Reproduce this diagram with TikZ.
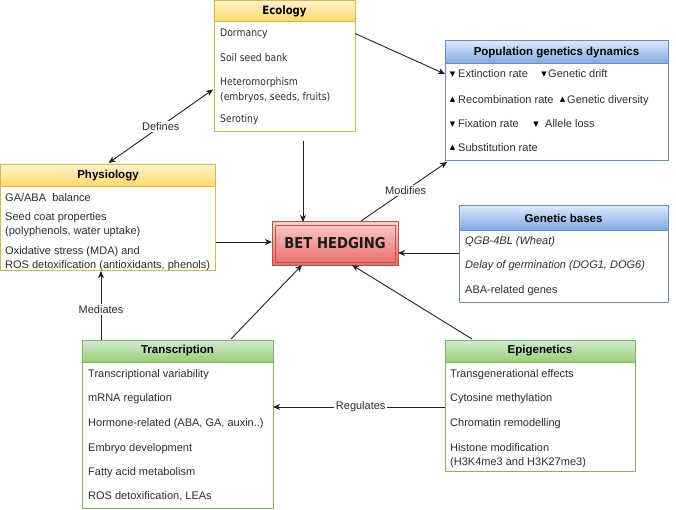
\documentclass[tikz,border=0pt]{standalone}
\usepackage{fontspec}
\setmainfont{Liberation Sans}
\newfontfamily\tahoma[FakeStretch=0.88]{DejaVu Sans}
\newfontfamily\symfont{DejaVu Sans}
\usetikzlibrary{arrows.meta,calc}
\definecolor{ytop}{HTML}{FFF2CC}
\definecolor{ybot}{HTML}{FFD966}
\definecolor{ystroke}{HTML}{D6B656}
\definecolor{btop}{HTML}{DAE8FC}
\definecolor{bbot}{HTML}{7EA6E0}
\definecolor{bstroke}{HTML}{6C8EBF}
\definecolor{gtop}{HTML}{D5E8D4}
\definecolor{gbot}{HTML}{97D077}
\definecolor{gstroke}{HTML}{82B366}
\definecolor{rtop}{HTML}{F8CECC}
\definecolor{rbot}{HTML}{EA6B66}
\definecolor{rstroke}{HTML}{B85450}
\definecolor{txt}{HTML}{2E2E2E}
\definecolor{edge}{HTML}{222222}
\begin{document}
\begin{tikzpicture}[x=1pt,y=-1pt,
  swim/.style={draw, line width=1pt, fill=white, inner sep=0pt, outer sep=0pt, anchor=north west},
  hdr/.style={draw, line width=1pt, inner sep=0pt, outer sep=0pt, anchor=north west, font=\fontsize{11.5}{13}\selectfont\bfseries, text=black},
  yhdr/.style={hdr, draw=ystroke, top color=ytop, bottom color=ybot},
  bhdr/.style={hdr, draw=bstroke, top color=btop, bottom color=bbot},
  ghdr/.style={hdr, draw=gstroke, top color=gtop, bottom color=gbot},
  row/.style={anchor=base west, inner sep=0pt, font=\fontsize{11}{13}\selectfont, text=txt},
  erow/.style={anchor=base west, inner sep=0pt, font=\tahoma\fontsize{10.5}{13}\selectfont, text=txt},
  irow/.style={row, font=\fontsize{11}{13}\selectfont\itshape},
  sym/.style={inner sep=0pt, font=\symfont\fontsize{7}{8}\selectfont, text=black},
  conn/.style={draw=edge, line width=0.9pt, -{Stealth[length=7pt,width=6pt,inset=2pt]}},
  lbl/.style={fill=white, inner sep=1.5pt, font=\fontsize{11}{13}\selectfont, text=txt}
]
\useasboundingbox (0,0) rectangle (676,510);

% ---------- Ecology ----------
\node[swim, draw=ystroke, minimum width=141pt, minimum height=131pt] (eco) at (214,0.5) {};
\node[yhdr, minimum width=141pt, minimum height=21pt, font=\tahoma\fontsize{11.5}{13}\selectfont\bfseries] (ecoh) at (eco.north west) {Ecology};
\node[erow] (eco1) at ($(eco.north west)+(6,36.5)$) {Dormancy};
\node[erow] (eco2) at ($(eco.north west)+(6,61.5)$) {Soil seed bank};
\node[erow] (eco3) at ($(eco.north west)+(6,85.5)$) {Heteromorphism};
\node[erow] (eco4) at ($(eco.north west)+(6,100.5)$) {(embryos, seeds, fruits)};
\node[erow] (eco5) at ($(eco.north west)+(6,122.5)$) {Serotiny};

% ---------- Population genetics dynamics ----------
\node[swim, draw=bstroke, minimum width=223pt, minimum height=120pt] (pop) at (445,41) {};
\node[bhdr, minimum width=223pt, minimum height=23pt] (poph) at (pop.north west) {Population genetics dynamics};
\node[sym] (pa1) at (452.5,74.5) {▼};
\node[row] (pt1) at (458,78) {Extinction rate};
\node[sym] (pa2) at (544,74.5) {▼};
\node[row] (pt2) at (548,78) {Genetic drift};
\node[sym] (pa3) at (452.5,99.5) {▲};
\node[row] (pt3) at (458,103.5) {Recombination rate};
\node[sym] (pa4) at (562.5,99.5) {▲};
\node[row] (pt4) at (567,103.5) {Genetic diversity};
\node[sym] (pa5) at (452.5,124.5) {▼};
\node[row] (pt5) at (458,128) {Fixation rate};
\node[sym] (pa6) at (536,124.5) {▼};
\node[row] (pt6) at (545,128) {Allele loss};
\node[sym] (pa7) at (452.5,148) {▲};
\node[row] (pt7) at (458,152) {Substitution rate};

% ---------- Physiology ----------
\node[swim, draw=ystroke, minimum width=215pt, minimum height=105pt] (phy) at (0.5,165) {};
\node[yhdr, minimum width=215pt, minimum height=22pt] (phyh) at (phy.north west) {Physiology};
\node[row] (phy1) at ($(phy.north west)+(4.5,37)$) {GA/ABA\ \ balance};
\node[row] (phy2) at ($(phy.north west)+(4.5,56)$) {Seed coat properties};
\node[row] (phy3) at ($(phy.north west)+(4.5,70)$) {(polyphenols, water uptake)};
\node[row] (phy4) at ($(phy.north west)+(4.5,89.5)$) {Oxidative stress (MDA) and};
\node[row] (phy5) at ($(phy.north west)+(4.5,103)$) {ROS detoxification (antioxidants, phenols)};

% ---------- BET HEDGING ----------
\node[draw=rstroke, line width=1pt, top color=rtop, bottom color=rbot, inner sep=0pt, outer sep=0pt, anchor=north west, minimum width=126pt, minimum height=43pt] (bet) at (272,222) {};
\draw[rstroke, line width=0.8pt] ($(bet.north west)+(3,3)$) rectangle ($(bet.south east)+(-3,-3)$);
\node[inner sep=0pt, font=\tahoma\fontsize{15}{17}\selectfont\bfseries, text=black!90] (betl) at (bet.center) {BET HEDGING};

% ---------- Genetic bases ----------
\node[swim, draw=bstroke, minimum width=209pt, minimum height=96pt] (gen) at (459,206) {};
\node[bhdr, minimum width=209pt, minimum height=25pt] (genh) at (gen.north west) {Genetic bases};
\node[irow] (gen1) at ($(gen.north west)+(6,39)$) {QGB-4BL (Wheat)};
\node[irow] (gen2) at ($(gen.north west)+(6,63)$) {Delay of germination (DOG1, DOG6)};
\node[row] (gen3) at ($(gen.north west)+(6,87)$) {ABA-related genes};

% ---------- Transcription ----------
\node[swim, draw=gstroke, minimum width=191pt, minimum height=168pt] (tra) at (82,340) {};
\node[ghdr, minimum width=191pt, minimum height=22pt] (trah) at (tra.north west) {Transcription};
\node[row] (tra1) at ($(tra.north west)+(6,37)$) {Transcriptional variability};
\node[row] (tra2) at ($(tra.north west)+(6,61)$) {mRNA regulation};
\node[row] (tra3) at ($(tra.north west)+(6,86)$) {Hormone-related (ABA, GA, auxin..)};
\node[row] (tra4) at ($(tra.north west)+(6,111)$) {Embryo development};
\node[row] (tra5) at ($(tra.north west)+(6,135)$) {Fatty acid metabolism};
\node[row] (tra6) at ($(tra.north west)+(6,159)$) {ROS detoxification, LEAs};

% ---------- Epigenetics ----------
\node[swim, draw=gstroke, minimum width=190pt, minimum height=131pt] (epi) at (445,340) {};
\node[ghdr, minimum width=190pt, minimum height=22pt] (epih) at (epi.north west) {Epigenetics};
\node[row] (epi1) at ($(epi.north west)+(5,37)$) {Transgenerational effects};
\node[row] (epi2) at ($(epi.north west)+(5,61)$) {Cytosine methylation};
\node[row] (epi3) at ($(epi.north west)+(5,86)$) {Chromatin remodelling};
\node[row] (epi4) at ($(epi.north west)+(5,111)$) {Histone modification};
\node[row] (epi5) at ($(epi.north west)+(5,125)$) {(H3K4me3 and H3K27me3)};

% ---------- Connectors ----------
\draw[conn] ($(eco.north east)+(0,33)$) -- ($(pop.north west)+(0,33)$);
\draw[conn] ($(eco.south west)+(89,10)$) -- ($(bet.north west)+(31,0)$);
\draw[conn, {Stealth[length=7pt,width=6pt,inset=2pt]}-{Stealth[length=7pt,width=6pt,inset=2pt]}] ($(phy.north west)+(108,-2)$) -- node[lbl] {Defines} ($(eco.north west)+(-1,89)$);
\draw[conn] ($(phy.north east)+(0,77)$) -- ($(bet.north west)+(0,20)$);
\draw[conn] ($(tra.north west)+(19,0)$) -- node[lbl, pos=0.44] {Mediates} ($(phy.south west)+(100.5,1)$);
\draw[conn] ($(tra.north west)+(149,-1)$) -- ($(bet.south west)+(30,0)$);
\draw[conn] ($(epi.north west)+(27,-1)$) -- ($(bet.south west)+(80,0)$);
\draw[conn] ($(gen.north west)+(0,47)$) -- ($(bet.north east)+(0,31)$);
\draw[conn] ($(bet.north west)+(89,-1)$) -- node[lbl, pos=0.52] {Modifies} ($(pop.south west)+(2,1)$);
\draw[conn] ($(epi.north west)+(0,67)$) -- node[lbl, pos=0.49] {Regulates} ($(tra.north east)+(0,67)$);
\end{tikzpicture}
\end{document}
